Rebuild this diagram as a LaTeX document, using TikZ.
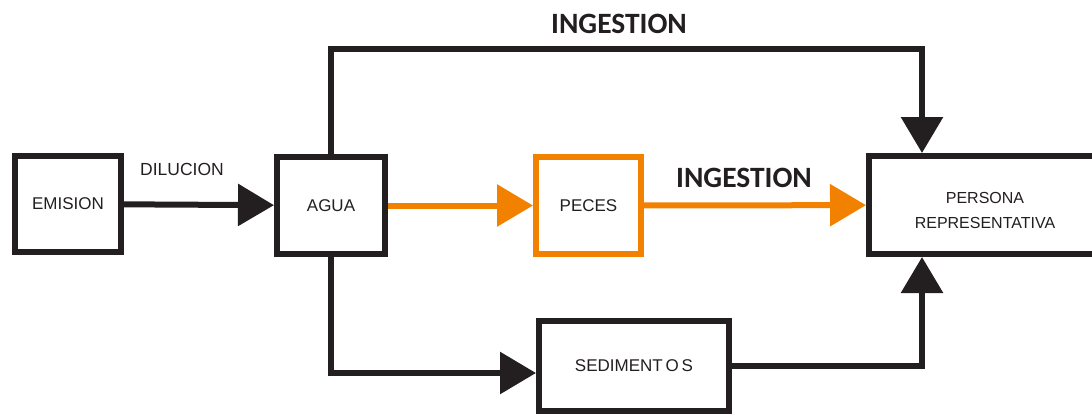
\documentclass[tikz,border=0pt]{standalone}
\usepackage{fontspec}
\setmainfont{Liberation Sans}
\newfontfamily\headfont{Carlito}
\usetikzlibrary{arrows.meta}

\definecolor{ink}{HTML}{231F20}
\definecolor{fishorange}{HTML}{F28100}

\begin{document}
\begin{tikzpicture}
	[x=1pt,y=-1pt,line width=6pt,draw=ink,
		>={Triangle[length=36pt,width=41pt]},
		box node/.style={rectangle,draw=ink,line width=6pt,fill=white,inner sep=0pt,font=\fontsize{17}{24}\selectfont,text=ink,align=center},
		fish node/.style={box node,draw=fishorange},
		flow label/.style={font=\fontsize{17.5}{20}\selectfont,text=ink},
		path label/.style={font=\headfont\bfseries\fontsize{29.5}{32}\selectfont,text=ink}]

	\useasboundingbox (0,0) rectangle (1092,416);

	\node[box node, minimum width=106pt, minimum height=96pt]  (emision)    at (68,204)    {EMISION};
	\node[box node, minimum width=108pt, minimum height=97pt]  (agua)       at (331,205.5) {AGUA};
	\node[fish node, minimum width=105pt, minimum height=97pt] (peces)      at (588.5,205.5) {PECES};
	\node[box node, minimum width=232pt, minimum height=98pt, font=\fontsize{16}{24.5}\selectfont, text height=47pt] (persona) at (985,205) {PERSONA\\REPRESENTATIVA};
	\node[box node, minimum width=190pt, minimum height=90pt]  (sedimentos) at (634,366)   {SEDIMENT\,O\,S};

	% \node[path label] (ingtop) at (619,24) {INGESTION};
	\node[path label] at (619,24) {INGESTION};

	\path[->]
	(emision) edge node[flow label, above=23pt, xshift=-17pt] {DILUCION} (agua)
	(agua) edge[draw=fishorange] (peces)
	(peces) edge[draw=fishorange] node[path label, above=11pt, xshift=-11pt] {INGESTION} (persona)
	;

	\draw[->] (agua.north) -- ++(0,-105) -| ([xshift=-63pt]persona.north);
	\draw[->] (agua.south) |- ([yshift=-7pt]sedimentos.west);
	\draw[->] (sedimentos.east) -| ([xshift=-63pt]persona.south);

\end{tikzpicture}
\end{document}
